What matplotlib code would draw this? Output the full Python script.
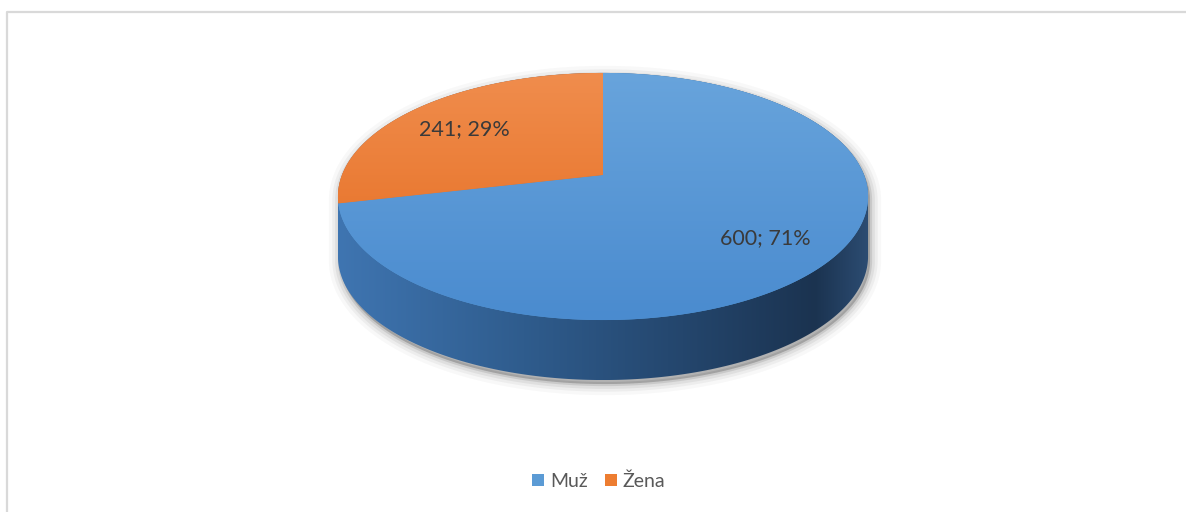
import numpy as np
import matplotlib
matplotlib.use('Agg')
import matplotlib.pyplot as plt
from matplotlib.path import Path
from matplotlib.patches import PathPatch, Patch
from matplotlib.colors import LinearSegmentedColormap

# data
labels = ['Muž', 'Žena']
values = [600, 241]
top_colors = [('#68a4dc', '#4a8bcf'), ('#f08d4d', '#e4691c')]
side_colors = ['#3f75b1', '#2f5c8d', '#24466d', '#1b3350', '#2c4c72']
legend_colors = ['#5b9bd5', '#ed7d31']

W, H = 1186, 512
# geometrie du camembert 3D (pixels)
cx, cy = 603, 175
A, B, K = 261, 119.8, 0.174
DEPTH = 60

plt.rcParams['font.family'] = ['Lato', 'DejaVu Sans']


def proj(theta, r=1.0):
    u = r * np.cos(theta)
    v = r * np.sin(theta)
    s = 1 + K * v
    return cx + A * u / s, cy - B * v / s


def hull(pts):
    pts = sorted(set(map(tuple, np.round(pts, 3))))
    def cross(o, a, b):
        return (a[0]-o[0])*(b[1]-o[1]) - (a[1]-o[1])*(b[0]-o[0])
    lower, upper = [], []
    for p in pts:
        while len(lower) >= 2 and cross(lower[-2], lower[-1], p) <= 0:
            lower.pop()
        lower.append(p)
    for p in reversed(pts):
        while len(upper) >= 2 and cross(upper[-2], upper[-1], p) <= 0:
            upper.pop()
        upper.append(p)
    return np.array(lower[:-1] + upper[:-1])


fig = plt.figure(figsize=(W/100, H/100), dpi=100)
ax = fig.add_axes([0, 0, 1, 1])

# cadre
ax.plot([7, 7, W + 5], [H + 5, 12, 12], color='#d9d9d9', lw=1.6, zorder=1)

# contour de l'extrusion
t = np.linspace(0, 2*np.pi, 720)
tx, ty = proj(t)
pts = np.vstack([np.column_stack([tx, ty]), np.column_stack([tx, ty + DEPTH])])
hp = hull(pts)
hull_path = Path(np.vstack([hp, hp[:1]]), closed=True)

# ombre
for lw, a in [(16, 0.03), (11, 0.05), (7, 0.07), (3, 0.12)]:
    sp = Path(hull_path.vertices + np.array([2, 4]), closed=True)
    ax.add_patch(PathPatch(sp, facecolor='#303030', edgecolor='#303030',
                           lw=lw, alpha=a, zorder=2))

# cote (degrade horizontal)
x0, x1 = hp[:, 0].min(), hp[:, 0].max()
y0, y1 = hp[:, 1].min(), hp[:, 1].max()
cmap_side = LinearSegmentedColormap.from_list(
    'side', list(zip([0, 0.35, 0.65, 0.9, 1.0], side_colors)))
grad = np.linspace(0, 1, 256)[None, :]
side_patch = PathPatch(hull_path, facecolor='none', edgecolor='none', zorder=3)
ax.add_patch(side_patch)
im = ax.imshow(grad, cmap=cmap_side, extent=(x0, x1, y1, y0),
               aspect='auto', zorder=3, interpolation='bilinear')
im.set_clip_path(side_patch)

# dessus : parts
total = sum(values)
start = np.pi / 2
ty0, ty1 = ty.min(), ty.max()
vgrad = np.linspace(0, 1, 256)[:, None]
for i, (lab, val) in enumerate(zip(labels, values)):
    span = 2 * np.pi * val / total
    th = np.linspace(start, start - span, 300)
    ax_, ay_ = proj(th)
    verts = np.vstack([[proj(0, 0)], np.column_stack([ax_, ay_]), [proj(0, 0)]])
    wp = Path(verts, closed=True)
    patch = PathPatch(wp, facecolor=legend_colors[i], edgecolor='none', zorder=4)
    ax.add_patch(patch)
    cm = LinearSegmentedColormap.from_list('t%d' % i, top_colors[i])
    wim = ax.imshow(vgrad, cmap=cm, extent=(tx.min(), tx.max(), ty1, ty0),
                    aspect='auto', zorder=5, interpolation='bilinear')
    wim.set_clip_path(patch)
    mid = start - span / 2
    lx, ly = proj(mid, 0.73)
    ax.text(lx, ly + 4, '%d; %d%%' % (val, round(100 * val / total)),
            ha='center', va='center', fontsize=15.5, color='#3a3a3a', zorder=6)
    start -= span

ax.set_xlim(0, W)
ax.set_ylim(H, 0)
ax.axis('off')

handles = [Patch(facecolor=c, edgecolor='none') for c in legend_colors]
fig.legend(handles, labels, loc='center', bbox_to_anchor=(0.505, 1 - 481/H),
           ncol=2, frameon=False, fontsize=14, handlelength=0.6,
           handleheight=0.6, handletextpad=0.3, columnspacing=0.9,
           labelcolor='#595959')

fig.savefig('out.png', dpi=100)
